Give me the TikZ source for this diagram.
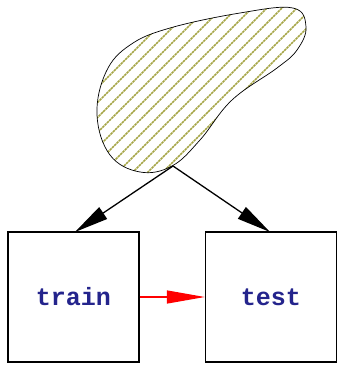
\documentclass[tikz,border=0pt]{standalone}
\usepackage{fontspec}
\setmonofont{Liberation Mono}
\usetikzlibrary{arrows.meta}
\definecolor{navytext}{RGB}{36,36,140}
\definecolor{hatch}{RGB}{165,165,70}
\tikzset{
  box/.style={draw, line width=1.3pt, minimum width=131pt, minimum height=130pt, inner sep=0pt,
    font=\ttfamily\bfseries\fontsize{25}{30}\selectfont, text=navytext},
  conn/.style={line width=1.3pt, -{Triangle[length=34pt,width=14pt]}},
  redconn/.style={line width=1.3pt, red, -{Triangle[length=38pt,width=13pt]}},
}
\begin{document}
\begin{tikzpicture}[x=1pt,y=-1pt]
\useasboundingbox (0,0) rectangle (338,367);
\def\blob{plot[smooth cycle, tension=0.65] coordinates {(293,8) (306,27) (297,50) (277,68) (232,100) (200,140) (172,166) (140,172) (110,155) (97,115) (106,72) (130,45) (170,28) (240,13)}}
\begin{scope}
\clip \blob;
\foreach \k in {-400,-385,...,400} {
  \draw[hatch, line width=1.5pt, dash pattern=on 2.5pt off 0.7pt] (\k+100,200) -- (\k+300,0);
}
\end{scope}
\draw[line width=0.7pt] \blob;
\coordinate (apex) at (173,166);
\node[box] (train) at (73.5,297) {train};
\node[box] (test) at (271,297) {test};
\draw[conn] (apex) -- (75,232);
\draw[conn] (apex) -- (270,232);
\draw[redconn] (train.east) -- (test.west);
\end{tikzpicture}
\end{document}
